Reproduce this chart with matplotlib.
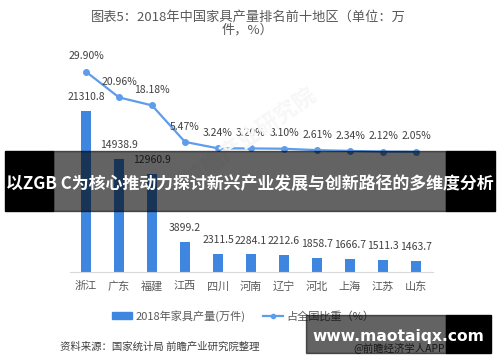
import matplotlib.pyplot as plt
from matplotlib.patches import Rectangle
from matplotlib.lines import Line2D

plt.rcParams['font.family'] = ['Noto Sans CJK SC', 'DejaVu Sans']

regions = ['浙江', '广东', '福建', '江西', '四川', '河南', '辽宁', '河北', '上海', '江苏', '山东']
output = [21310.8, 14938.9, 12960.9, 3899.2, 2311.5, 2284.1, 2212.6, 1858.7, 1666.7, 1511.3, 1463.7]
share = [29.90, 20.96, 18.18, 5.47, 3.24, 3.20, 3.10, 2.61, 2.34, 2.12, 2.05]

bar_c = '#3f86e0'
line_c = '#5e9cec'
txt_c = '#404040'

fig = plt.figure(figsize=(5, 3.62), dpi=100)
ax = fig.add_axes([0.139, 0.2494, 0.726, 0.5848])
x = range(len(regions))
ax.bar(x, output, width=0.32, color=bar_c, zorder=2)
ax.set_xlim(-0.5, 10.5)
ax.set_ylim(0, 28021)
for i, v in enumerate(output):
    ax.annotate(f'{v:.1f}', (i, v), xytext=(0, 10), textcoords='offset points',
                ha='center', va='center', fontsize=7.5, color=txt_c)
for s in ['top', 'right', 'left']:
    ax.spines[s].set_visible(False)
ax.spines['bottom'].set_color('#d9d9d9')
ax.set_yticks([])
ax.set_xticks(list(x))
ax.set_xticklabels(regions, fontsize=8, color='#595959')
ax.tick_params(axis='x', length=0, pad=7)

ax2 = ax.twinx()
ax2.set_ylim(-39.7, 33.97)
ax2.plot(x, share, color=line_c, lw=1.6, marker='o', ms=4, zorder=3)
for i, v in enumerate(share):
    ax2.annotate(f'{v:.2f}%', (i, v), xytext=(0, 11), textcoords='offset points',
                 ha='center', va='center', fontsize=7.5, color=txt_c)
ax2.axis('off')

fig.text(0.496, 0.934, '图表5：2018年中国家具产量排名前十地区（单位：万\n件，%）',
         ha='center', va='center', fontsize=9.5, color='#595959', linespacing=0.95)

# legend
h1 = Rectangle((0, 0), 1, 1, color=bar_c)
h2 = Line2D([], [], color=line_c, lw=1.6, marker='o', ms=3)
fig.legend([h1, h2], ['2018年家具产量(万件)', '占全国比重（%）'], loc='center',
           bbox_to_anchor=(0.487, 0.127), ncol=2, frameon=False, fontsize=8,
           labelcolor='#595959', handlelength=1.8, handleheight=0.6, columnspacing=1.6,
           handletextpad=0.3)

fig.text(0.12, 0.041, '资料来源：国家统计局 前瞻产业研究院整理', fontsize=7.5,
         color=txt_c, va='center')
fig.text(0.89, 0.041, '@前瞻经济学人APP', fontsize=7.5, color=txt_c, va='center', ha='right')

# faint watermark
fig.text(0.5, 0.62, '前瞻产业研究院', fontsize=16, color='#f7f7f7', rotation=35,
         ha='center', va='center', zorder=0, fontweight='bold')

# banner overlay
fig.patches.append(Rectangle((0.01, 1 - 210.7 / 362), 0.096, 60 / 362, transform=fig.transFigure,
                             color='black', zorder=10))
fig.patches.append(Rectangle((0.892, 1 - 210.7 / 362), 0.098, 60 / 362, transform=fig.transFigure,
                             color='black', zorder=10))
fig.patches.append(Rectangle((0.106, 1 - 210.7 / 362), 0.786, 60 / 362, transform=fig.transFigure,
                             color='black', alpha=0.61, zorder=10))
fig.text(0.5, 1 - 184 / 362, '以ZGB C为核心推动力探讨新兴产业发展与创新路径的多维度分析',
         ha='center', va='center', fontsize=12.2, color='white', fontweight='bold', zorder=11)

# site watermark
fig.patches.append(Rectangle((0.611, 1 - 352.7 / 362), 0.281, 37.7 / 362, transform=fig.transFigure,
                             color='black', alpha=0.61, zorder=10))
fig.patches.append(Rectangle((0.892, 1 - 352.7 / 362), 0.09, 37.7 / 362, transform=fig.transFigure,
                             color='black', zorder=10))
fig.text(0.796, 1 - 336.7 / 362, 'www.maotaiqx.com', ha='center', va='center', fontsize=11.2,
         color='white', fontweight='bold', family=['DejaVu Sans'], zorder=11)

fig.savefig('out.png', dpi=100)
